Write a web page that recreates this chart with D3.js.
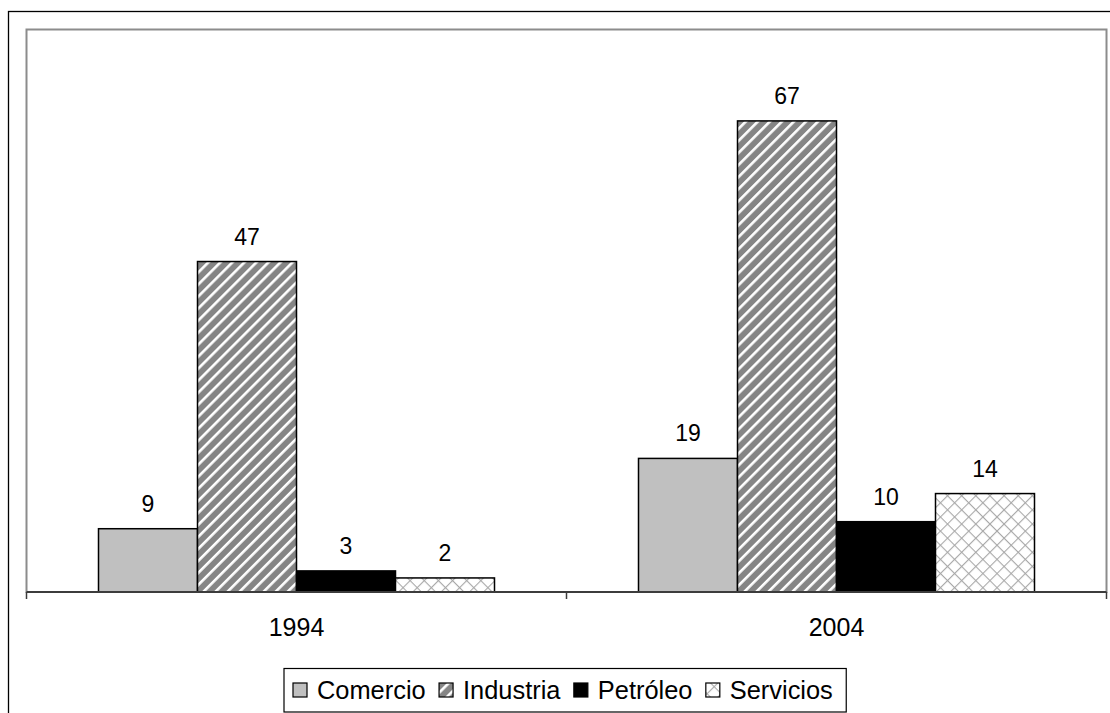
<!DOCTYPE html>
<html>
<head>
<meta charset="utf-8">
<script src="https://cdn.jsdelivr.net/npm/d3@7"></script>
<style>
  html, body { margin: 0; padding: 0; background: #fff; }
  svg { display: block; font-family: "Liberation Sans", Arial, sans-serif; }
</style>
</head>
<body>
<svg id="chart" width="1110" height="713"></svg>
<script>
// Data
const years = ["1994", "2004"];
const sectors = ["Comercio", "Industria", "Petróleo", "Servicios"];
const comercio = [9, 19];
const industria = [47, 67];
const petroleo = [3, 10];
const servicios = [2, 14];
const seriesValues = [comercio, industria, petroleo, servicios];
const yMax = 80;

const svg = d3.select("#chart");
const W = 1110, H = 713;

// Fill patterns
const defs = svg.append("defs");

const stripe = defs.append("pattern")
  .attr("id", "pat-industria")
  .attr("patternUnits", "userSpaceOnUse")
  .attr("width", 8.5).attr("height", 8.5)
  .attr("patternTransform", "rotate(45)");
stripe.append("rect").attr("width", 8.5).attr("height", 8.5).attr("fill", "#858585");
stripe.append("rect").attr("x", 0).attr("width", 2.6).attr("height", 8.5).attr("fill", "#ffffff");

const hatch = defs.append("pattern")
  .attr("id", "pat-servicios")
  .attr("patternUnits", "userSpaceOnUse")
  .attr("width", 10).attr("height", 10)
  .attr("patternTransform", "rotate(45)");
hatch.append("rect").attr("width", 10).attr("height", 10).attr("fill", "#ffffff");
hatch.append("line").attr("x1", 0).attr("y1", 0).attr("x2", 10).attr("y2", 0)
  .attr("stroke", "#a8a8a8").attr("stroke-width", 2.2);
hatch.append("line").attr("x1", 0).attr("y1", 0).attr("x2", 0).attr("y2", 10)
  .attr("stroke", "#a8a8a8").attr("stroke-width", 2.2);

const fills = ["#c0c0c0", "url(#pat-industria)", "#000000", "url(#pat-servicios)"];

// Outer chart frame
svg.append("rect")
  .attr("x", 8.5).attr("y", 11.5)
  .attr("width", W + 20).attr("height", H + 20)
  .attr("fill", "none").attr("stroke", "#000").attr("stroke-width", 1.3);

// Plot area
const plot = { left: 26.5, right: 1106.5, top: 29.5, bottom: 592 };

svg.append("rect")
  .attr("x", plot.left).attr("y", plot.top)
  .attr("width", plot.right - plot.left).attr("height", plot.bottom - plot.top)
  .attr("fill", "#fff").attr("stroke", "#8c8c8c").attr("stroke-width", 2);

// Scales
const x0 = d3.scaleBand().domain(years).range([plot.left, plot.right]).padding(0);
const x1 = d3.scaleBand().domain(sectors)
  .range([x0.bandwidth() * 72 / 540, x0.bandwidth() * 468 / 540]).padding(0);
const y = d3.scaleLinear().domain([0, yMax]).range([plot.bottom, plot.top]);

// Bars
const rows = [];
years.forEach((yr, i) => {
  sectors.forEach((s, j) => rows.push({ year: yr, sector: s, value: seriesValues[j][i], idx: j }));
});

const g = svg.append("g");
g.selectAll("rect.bar")
  .data(rows)
  .join("rect")
  .attr("class", "bar")
  .attr("x", d => x0(d.year) + x1(d.sector))
  .attr("y", d => y(d.value))
  .attr("width", x1.bandwidth())
  .attr("height", d => y(0) - y(d.value))
  .attr("fill", d => fills[d.idx])
  .attr("stroke", "#000").attr("stroke-width", 1.5);

// Value labels
g.selectAll("text.val")
  .data(rows)
  .join("text")
  .attr("class", "val")
  .attr("x", d => x0(d.year) + x1(d.sector) + x1.bandwidth() / 2)
  .attr("y", d => y(d.value) - 17)
  .attr("text-anchor", "middle")
  .attr("font-size", 23)
  .attr("fill", "#000")
  .text(d => d.value);

// Category axis
const xAxis = d3.axisBottom(x0).tickSize(0).tickPadding(0).tickFormat("");
const axG = svg.append("g").attr("transform", `translate(0,${plot.bottom})`).call(xAxis);
axG.select(".domain").attr("stroke", "#3c3c3c").attr("stroke-width", 2)
  .attr("d", `M${plot.left},0H${plot.right}`);
axG.selectAll(".tick").remove();

// Boundary ticks between categories
const boundaries = [plot.left, x0(years[1]), plot.right];
axG.selectAll("line.bnd")
  .data(boundaries)
  .join("line")
  .attr("class", "bnd")
  .attr("x1", d => d).attr("x2", d => d)
  .attr("y1", 0).attr("y2", 7)
  .attr("stroke", "#3c3c3c").attr("stroke-width", 1.5);

axG.selectAll("text.cat")
  .data(years)
  .join("text")
  .attr("class", "cat")
  .attr("x", d => x0(d) + x0.bandwidth() / 2)
  .attr("y", 44)
  .attr("text-anchor", "middle")
  .attr("font-size", 25)
  .attr("fill", "#000")
  .text(d => d);

// Legend
const leg = svg.append("g");
const legBox = leg.append("rect")
  .attr("fill", "#fff").attr("stroke", "#000").attr("stroke-width", 1.2);
let cx = 293;
const cy = 690;
const sw = 14;
sectors.forEach((s, j) => {
  leg.append("rect")
    .attr("x", cx).attr("y", cy - sw / 2)
    .attr("width", sw).attr("height", sw)
    .attr("fill", fills[j]).attr("stroke", "#000").attr("stroke-width", 1.2);
  cx += sw + 10;
  const t = leg.append("text")
    .attr("x", cx).attr("y", cy)
    .attr("dominant-baseline", "central")
    .attr("font-size", 25.4)
    .attr("fill", "#000")
    .text(s);
  cx += t.node().getComputedTextLength() + 13.4;
});
legBox.attr("x", 284).attr("y", 668.5).attr("width", cx - 284).attr("height", 43.5);
</script>
</body>
</html>
